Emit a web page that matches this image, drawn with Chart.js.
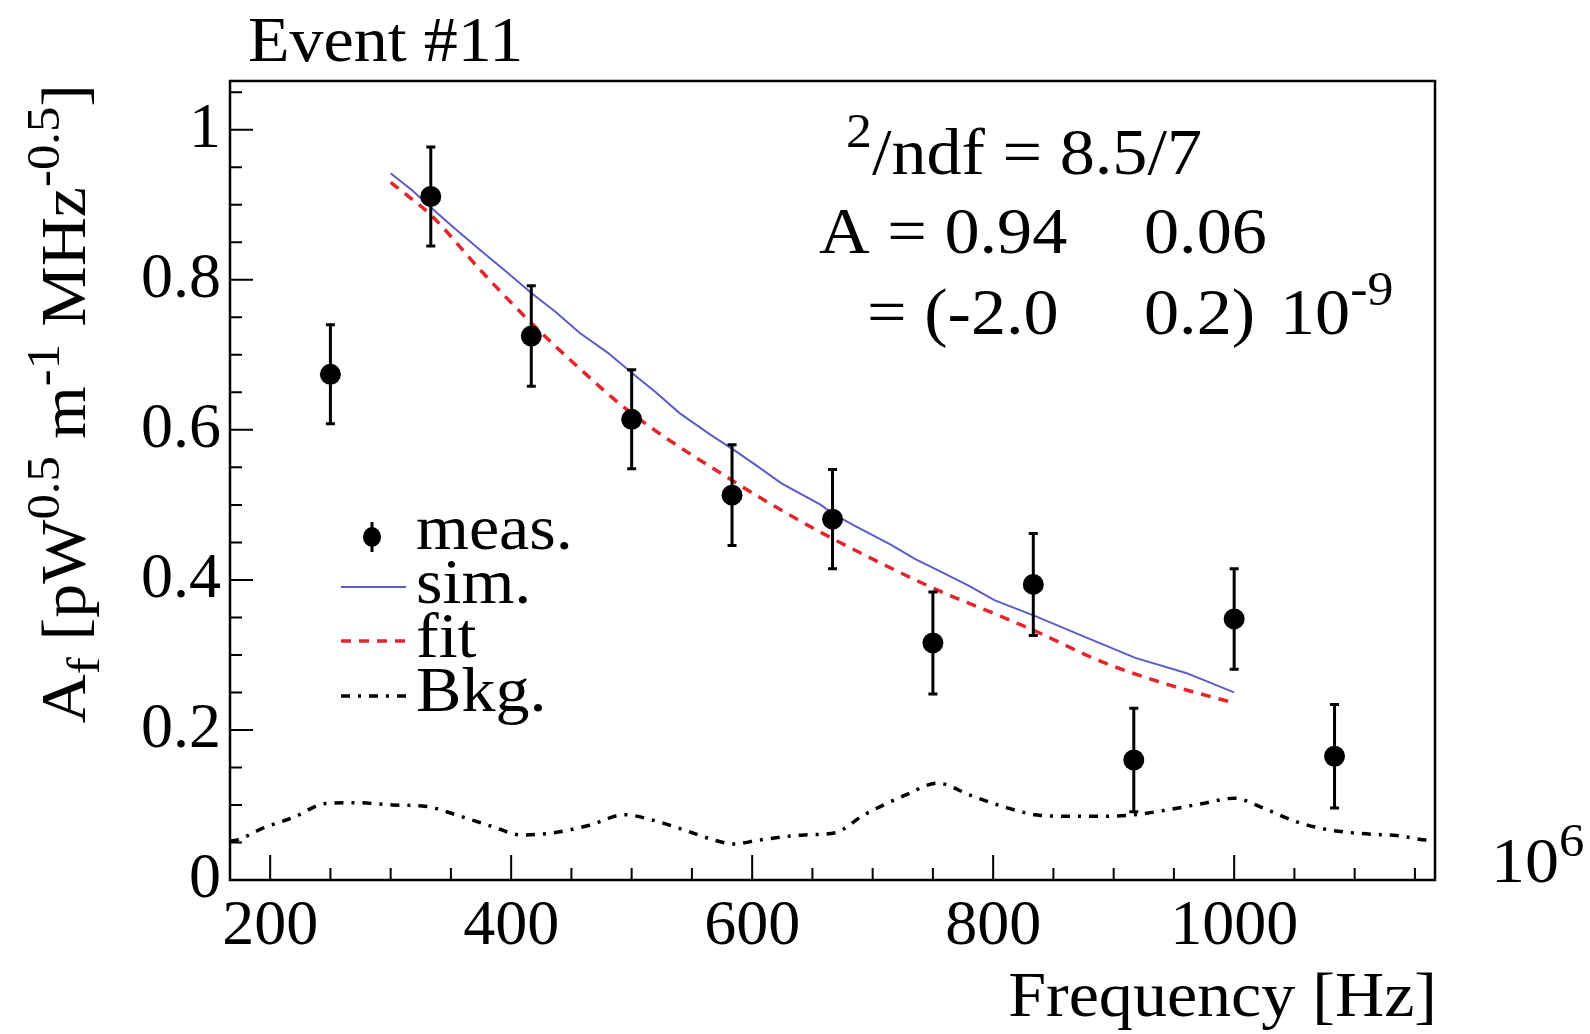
<!DOCTYPE html>
<html>
<head>
<meta charset="utf-8">
<title>Event #11</title>
<script src="https://cdn.jsdelivr.net/npm/chart.js@4.4.1/dist/chart.umd.min.js"></script>
<style>
  html, body { margin: 0; padding: 0; background: #fff; }
  #wrap { width: 1590px; height: 1034px; }
</style>
</head>
<body>
<div id="wrap"><canvas id="myChart" width="1590" height="1034"></canvas></div>
<script>
// Datos del evento #11 (frecuencia en unidades de 10^6 Hz)

// puntos medidos con su error
const measFreq = [250, 333.3, 416.7, 500, 583.3, 666.7, 750, 833.3, 916.7, 1000, 1083.3];
const measValue = [0.674, 0.911, 0.725, 0.614, 0.513, 0.481, 0.316, 0.394, 0.160, 0.348, 0.165];
const measError = [0.066, 0.066, 0.067, 0.066, 0.067, 0.066, 0.068, 0.068, 0.069, 0.067, 0.069];

// simulacion
const simFreq = [300, 318, 333, 352, 374, 395, 417, 437, 457, 480, 500, 520, 540, 565, 585, 604, 624, 657, 668, 690, 715, 735, 754, 780, 801, 836, 876, 918, 960, 1000];
const simValue = [0.942, 0.919, 0.897, 0.870, 0.840, 0.812, 0.782, 0.757, 0.729, 0.703, 0.676, 0.650, 0.622, 0.594, 0.573, 0.552, 0.529, 0.500, 0.487, 0.468, 0.447, 0.428, 0.413, 0.392, 0.373, 0.351, 0.324, 0.296, 0.276, 0.250];

// ajuste
const fitFreq = [300, 315, 333, 375, 417, 458, 500, 585, 646, 696, 753, 807, 836, 890, 946, 1000];
const fitValue = [0.930, 0.911, 0.887, 0.812, 0.742, 0.680, 0.622, 0.531, 0.473, 0.431, 0.387, 0.351, 0.331, 0.291, 0.260, 0.236];

// fondo
const bkgFreq = [166.7, 172, 194, 220, 246, 272, 302, 330, 354, 383, 409, 435, 465, 494, 517, 543, 569, 585, 605, 643, 669, 692, 727, 754, 781, 808, 835, 862, 893, 917, 943, 974, 1000, 1024, 1051, 1078, 1105, 1136, 1163, 1166.7];
const bkgValue = [0.052, 0.053, 0.069, 0.084, 0.102, 0.103, 0.100, 0.098, 0.087, 0.072, 0.060, 0.063, 0.073, 0.087, 0.080, 0.067, 0.053, 0.048, 0.053, 0.060, 0.063, 0.086, 0.113, 0.129, 0.113, 0.098, 0.087, 0.085, 0.085, 0.087, 0.093, 0.102, 0.109, 0.096, 0.078, 0.067, 0.062, 0.059, 0.053, 0.053];

// ejes
const xTicks = [200, 400, 600, 800, 1000];
const yTicks = [0, 0.2, 0.4, 0.6, 0.8, 1];

const SERIF = '"Liberation Serif", "Times New Roman", serif';
const STRETCH = 1.08;
const SUP = 0.74;
const SIM_COLOR = '#5c5cc4';
const FIT_COLOR = '#e3262b';

const toXY = (xs, ys) => xs.map((x, i) => ({ x: x, y: ys[i] }));

// texto con super/subindices: partes = [texto, escala, subida]
function richWidth(ctx, parts, size) {
  let w = 0;
  for (const [t, s] of parts) {
    ctx.font = Math.round(size * s) + 'px ' + SERIF;
    w += ctx.measureText(t).width;
  }
  return w * STRETCH;
}
function drawRich(ctx, parts, x, y, size) {
  ctx.save();
  ctx.translate(x, y);
  ctx.scale(STRETCH, 1);
  ctx.fillStyle = '#000';
  ctx.textBaseline = 'alphabetic';
  ctx.textAlign = 'left';
  let cx = 0;
  for (const [t, s, rise] of parts) {
    ctx.font = Math.round(size * s) + 'px ' + SERIF;
    ctx.fillText(t, cx, -rise * size);
    cx += ctx.measureText(t).width;
  }
  ctx.restore();
}

const rootStyle = {
  id: 'rootStyle',
  afterDatasetsDraw(chart) {
    // barras de error
    const ctx = chart.ctx;
    const xs = chart.scales.x, ys = chart.scales.y;
    ctx.save();
    ctx.strokeStyle = '#000';
    ctx.lineWidth = 3;
    measFreq.forEach((f, i) => {
      const px = xs.getPixelForValue(f);
      const top = ys.getPixelForValue(measValue[i] + measError[i]);
      const bot = ys.getPixelForValue(measValue[i] - measError[i]);
      ctx.beginPath();
      ctx.moveTo(px, top); ctx.lineTo(px, bot);
      ctx.moveTo(px - 4.5, top); ctx.lineTo(px + 4.5, top);
      ctx.moveTo(px - 4.5, bot); ctx.lineTo(px + 4.5, bot);
      ctx.stroke();
    });
    ctx.restore();
  },
  afterDraw(chart) {
    const ctx = chart.ctx;
    const a = chart.chartArea;
    const xs = chart.scales.x, ys = chart.scales.y;
    ctx.save();
    ctx.strokeStyle = '#000';
    ctx.lineWidth = 2.5;
    ctx.strokeRect(a.left, a.top, a.right - a.left, a.bottom - a.top);

    // marcas hacia adentro
    ctx.lineWidth = 2;
    ctx.beginPath();
    for (let v = 200; v <= 1150; v += 50) {
      const px = xs.getPixelForValue(v);
      const len = v % 200 === 0 ? 25 : 12;
      ctx.moveTo(px, a.bottom); ctx.lineTo(px, a.bottom - len);
    }
    for (let i = 0; i <= 21; i++) {
      const py = ys.getPixelForValue(i * 0.05);
      const len = i % 4 === 0 ? 23 : 12;
      ctx.moveTo(a.left, py); ctx.lineTo(a.left + len, py);
    }
    ctx.stroke();
    ctx.restore();

    // titulo
    drawRich(ctx, [['Event #11', 1, 0]], 248, 61, 63);

    // titulo eje y (rotado)
    const yParts = [['A', 1, 0], ['f', SUP, -0.22], [' [pW', 1, 0], ['0.5', SUP, 0.42],
      [' m', 1, 0], ['-1', SUP, 0.42], [' MHz', 1, 0], ['-0.5', SUP, 0.42], [']', 1, 0]];
    const yw = richWidth(ctx, yParts, 63);
    ctx.save();
    ctx.translate(85, 84 + yw);
    ctx.rotate(-Math.PI / 2);
    drawRich(ctx, yParts, 0, 0, 63);
    ctx.restore();

    // titulo eje x
    const xParts = [['Frequency [Hz]', 1, 0]];
    drawRich(ctx, xParts, 1437 - richWidth(ctx, xParts, 63), 1016, 63);

    // factor de escala
    drawRich(ctx, [['10', 1, 0], ['6', SUP, 0.42]], 1491, 882, 63);

    // resultados del ajuste
    drawRich(ctx, [['2', SUP, 0.42], ['/ndf = 8.5/7', 1, 0]], 846, 174, 65);
    drawRich(ctx, [['A = 0.94', 1, 0]], 819, 253, 65);
    drawRich(ctx, [['0.06', 1, 0]], 1144, 253, 65);
    drawRich(ctx, [['= (-2.0', 1, 0]], 867, 334, 65);
    drawRich(ctx, [['0.2)', 1, 0]], 1144, 334, 65);
    drawRich(ctx, [['10', 1, 0], ['-9', SUP, 0.45]], 1280, 334, 65);

    // leyenda
    ctx.save();
    ctx.fillStyle = '#000';
    ctx.strokeStyle = '#000';
    ctx.lineWidth = 3;
    ctx.beginPath();
    ctx.moveTo(372, 522); ctx.lineTo(372, 552);
    ctx.stroke();
    ctx.beginPath();
    ctx.ellipse(372, 537, 9, 10, 0, 0, Math.PI * 2);
    ctx.fill();

    ctx.lineWidth = 2;
    ctx.strokeStyle = SIM_COLOR;
    ctx.beginPath(); ctx.moveTo(341, 587); ctx.lineTo(406, 587); ctx.stroke();

    ctx.lineWidth = 3.5;
    ctx.strokeStyle = FIT_COLOR;
    ctx.setLineDash([10, 8]);
    ctx.beginPath(); ctx.moveTo(341, 641); ctx.lineTo(406, 641); ctx.stroke();

    ctx.strokeStyle = '#000';
    ctx.setLineDash([9, 8, 3, 8]);
    ctx.beginPath(); ctx.moveTo(341, 696); ctx.lineTo(406, 696); ctx.stroke();
    ctx.restore();

    drawRich(ctx, [['meas.', 1, 0]], 416, 549, 63);
    drawRich(ctx, [['sim.', 1, 0]], 416, 603, 63);
    drawRich(ctx, [['fit', 1, 0]], 416, 657, 63);
    drawRich(ctx, [['Bkg.', 1, 0]], 416, 711, 63);
  }
};

const data = {
  datasets: [
    {
      label: 'meas.',
      data: toXY(measFreq, measValue),
      showLine: false,
      pointRadius: 10.5,
      pointBackgroundColor: '#000',
      pointBorderWidth: 0,
      order: 0,
    },
    {
      label: 'sim.',
      data: toXY(simFreq, simValue),
      showLine: true,
      borderColor: SIM_COLOR,
      borderWidth: 2,
      pointRadius: 0,
      tension: 0,
      order: 1,
    },
    {
      label: 'fit',
      data: toXY(fitFreq, fitValue),
      showLine: true,
      borderColor: FIT_COLOR,
      borderWidth: 3.5,
      borderDash: [10, 8],
      pointRadius: 0,
      cubicInterpolationMode: 'monotone',
      order: 2,
    },
    {
      label: 'Bkg.',
      data: toXY(bkgFreq, bkgValue),
      showLine: true,
      borderColor: '#000',
      borderWidth: 3.5,
      borderDash: [9, 8, 3, 8],
      pointRadius: 0,
      cubicInterpolationMode: 'monotone',
      order: 3,
    },
  ],
};

const config = {
  type: 'scatter',
  data: data,
  options: {
    responsive: false,
    animation: false,
    devicePixelRatio: 1,
    layout: { padding: { left: 0, top: 81, right: 155, bottom: 0 } },
    plugins: { legend: { display: false }, tooltip: { enabled: false } },
    scales: {
      x: {
        type: 'linear',
        min: 166.67,
        max: 1166.67,
        grid: { display: false, drawTicks: false },
        border: { display: false },
        afterFit: (s) => { s.height = 154; },
        afterBuildTicks: (s) => { s.ticks = xTicks.map(v => ({ value: v })); },
        ticks: {
          color: '#000',
          padding: 9,
          maxRotation: 0,
          autoSkip: false,
          font: { family: SERIF, size: 64 },
          callback: (v) => String(Math.round(v)),
        },
      },
      y: {
        type: 'linear',
        min: 0,
        max: 1.065,
        grid: { display: false, drawTicks: false },
        border: { display: false },
        afterFit: (s) => { s.width = 230; },
        afterBuildTicks: (s) => { s.ticks = yTicks.map(v => ({ value: v })); },
        ticks: {
          color: '#000',
          padding: 9,
          autoSkip: false,
          font: { family: SERIF, size: 64 },
          callback: (v) => String(Math.round(v * 10) / 10),
        },
      },
    },
  },
  plugins: [rootStyle],
};

const myChart = new Chart(document.getElementById('myChart'), config);
</script>
</body>
</html>
